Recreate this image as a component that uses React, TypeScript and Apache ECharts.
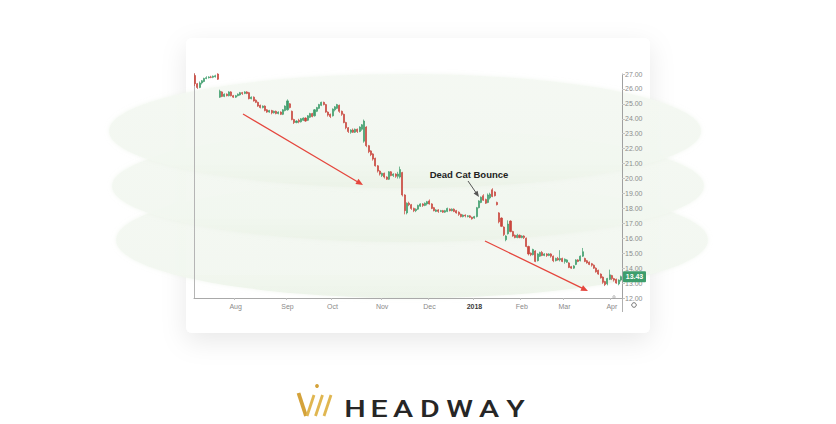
import React, { useEffect, useRef } from "react";
import * as echarts from "echarts";

// Month labels of the time axis and the number of trading sessions in each month shown
const monthNames = ["Jul", "Aug", "Sep", "Oct", "Nov", "Dec", "2018", "Feb", "Mar", "Apr"];
const monthSessions = [18, 23, 20, 22, 21, 20, 21, 19, 21, 5];

// Daily candles: [open, close, low, high]
const candles: number[][] = [
  [26.9, 26.35, 26.2, 27.05], [26.35, 26.1, 26.0, 26.4], [26.1, 26.4, 26.05, 26.5], [26.4, 26.55, 26.3, 26.6],
  [26.5, 26.7, 26.45, 26.75], [26.7, 26.75, 26.65, 26.85], [26.75, 26.8, 26.7, 26.85], [26.8, 26.78, 26.72, 26.88],
  [26.78, 26.85, 26.72, 26.9], [26.82, 26.88, 26.76, 26.95], [27.0, 26.65, 26.6, 27.05],
  [25.45, 25.85, 25.4, 25.95], [25.8, 25.5, 25.45, 25.85], [25.5, 25.65, 25.45, 25.7], [25.65, 25.55, 25.5, 25.7],
  [25.55, 25.8, 25.5, 25.85], [25.8, 25.55, 25.5, 25.85], [25.55, 25.45, 25.4, 25.6],
  [25.45, 25.55, 25.4, 25.6], [25.55, 25.65, 25.5, 25.7], [25.6, 25.75, 25.55, 25.8], [25.75, 25.7, 25.6, 25.8],
  [25.7, 25.8, 25.65, 25.85], [25.8, 25.7, 25.65, 25.85], [25.75, 25.35, 25.3, 25.8], [25.35, 25.45, 25.3, 25.5],
  [25.45, 25.2, 25.15, 25.5], [25.25, 25.1, 25.05, 25.3], [25.1, 24.85, 24.8, 25.15], [24.9, 24.75, 24.7, 24.95],
  [24.75, 24.85, 24.7, 24.9], [24.85, 24.55, 24.5, 24.9], [24.6, 24.45, 24.4, 24.65], [24.45, 24.55, 24.4, 24.6],
  [24.55, 24.4, 24.3, 24.6], [24.4, 24.5, 24.35, 24.55], [24.5, 24.35, 24.3, 24.55], [24.35, 24.45, 24.3, 24.5],
  [24.45, 24.3, 24.25, 24.5], [24.3, 24.6, 24.25, 24.65], [24.55, 24.85, 24.5, 24.9],
  [24.6, 25.2, 24.55, 25.3], [25.0, 24.75, 24.7, 25.05], [24.5, 23.95, 23.9, 24.55], [23.95, 23.75, 23.65, 24.0],
  [23.75, 23.85, 23.7, 23.9], [23.9, 23.8, 23.7, 24.0], [23.8, 24.0, 23.75, 24.05], [23.9, 24.05, 23.85, 24.1],
  [24.05, 23.85, 23.8, 24.1], [23.9, 24.2, 23.85, 24.25], [24.1, 24.35, 24.05, 24.4], [24.35, 24.15, 24.1, 24.4],
  [24.2, 24.6, 24.15, 24.65], [24.5, 24.75, 24.45, 24.8], [24.7, 24.95, 24.65, 25.0], [24.9, 25.1, 24.85, 25.15],
  [25.1, 24.95, 24.9, 25.15], [24.95, 24.45, 24.4, 25.0], [24.45, 24.25, 24.15, 24.5], [24.3, 24.15, 24.05, 24.35],
  [24.2, 24.65, 24.15, 24.7], [24.6, 24.8, 24.5, 24.85], [24.7, 24.95, 24.65, 25.0], [24.9, 24.5, 24.4, 24.95],
  [24.5, 24.3, 24.2, 24.55], [24.3, 23.75, 23.7, 24.35], [23.75, 23.4, 23.3, 23.8], [23.4, 23.15, 23.05, 23.45],
  [23.1, 23.25, 23.0, 23.3], [23.25, 23.1, 23.05, 23.35], [23.1, 23.3, 23.05, 23.35], [23.3, 23.15, 23.05, 23.35],
  [23.15, 23.45, 23.1, 23.5], [23.3, 23.6, 23.2, 23.65], [22.5, 23.85, 22.4, 23.95], [23.45, 22.2, 22.1, 23.5],
  [22.2, 21.8, 21.7, 22.25], [21.85, 21.6, 21.5, 21.9], [21.65, 21.3, 21.2, 21.7], [21.35, 20.85, 20.8, 21.4],
  [20.85, 20.5, 20.4, 20.9], [20.5, 20.3, 20.2, 20.55], [20.2, 20.35, 20.1, 20.4], [20.35, 20.1, 20.0, 20.4],
  [20.1, 19.95, 19.9, 20.15], [19.95, 20.45, 19.9, 20.5], [20.45, 20.2, 20.15, 20.5], [20.2, 20.3, 20.1, 20.35],
  [20.3, 20.15, 20.05, 20.35], [20.15, 20.3, 20.0, 20.45], [20.1, 20.6, 20.0, 20.8], [20.4, 18.9, 18.8, 20.45],
  [18.9, 17.85, 17.6, 18.95], [17.7, 18.35, 17.6, 18.4], [18.35, 18.25, 18.15, 18.45], [18.25, 18.0, 17.9, 18.3],
  [18.0, 17.85, 17.75, 18.05], [17.85, 17.95, 17.75, 18.0], [17.95, 18.2, 17.9, 18.25], [18.15, 18.3, 18.1, 18.35],
  [18.3, 18.2, 18.1, 18.35], [18.2, 18.35, 18.15, 18.4], [18.3, 18.45, 18.2, 18.5], [18.5, 18.3, 18.25, 18.6],
  [18.3, 18.0, 17.95, 18.35], [18.05, 17.85, 17.8, 18.1], [17.8, 17.9, 17.75, 17.95], [17.9, 17.8, 17.7, 17.95],
  [17.8, 17.85, 17.75, 17.9], [17.85, 17.75, 17.7, 17.9], [17.75, 17.85, 17.7, 17.9], [17.8, 18.0, 17.75, 18.05],
  [17.95, 17.85, 17.8, 18.0], [17.85, 17.95, 17.8, 18.0], [17.95, 17.8, 17.75, 18.0], [17.85, 17.7, 17.65, 17.9],
  [17.75, 17.6, 17.5, 17.8], [17.6, 17.45, 17.4, 17.65], [17.45, 17.55, 17.4, 17.6], [17.55, 17.5, 17.4, 17.6],
  [17.45, 17.5, 17.4, 17.55], [17.5, 17.4, 17.35, 17.55], [17.4, 17.3, 17.25, 17.45], [17.35, 17.45, 17.3, 17.5],
  [17.45, 18.05, 17.4, 18.1], [18.05, 18.5, 18.0, 18.55], [18.4, 18.75, 18.35, 18.8], [18.85, 18.55, 18.5, 18.95],
  [18.6, 18.35, 18.3, 18.65], [18.4, 18.9, 18.35, 19.0], [18.7, 18.95, 18.6, 19.05], [19.25, 18.8, 18.75, 19.35],
  [19.1, 18.85, 18.8, 19.15], [18.4, 18.25, 18.2, 18.45], [17.7, 17.1, 17.0, 17.75], [17.35, 16.8, 16.75, 17.4],
  [16.75, 16.25, 16.15, 16.8], [15.9, 16.15, 15.8, 16.2], [16.3, 16.95, 16.25, 17.2], [17.15, 16.45, 16.4, 17.2],
  [16.45, 16.15, 16.1, 16.5], [16.2, 16.05, 16.0, 16.25], [16.05, 16.2, 16.0, 16.3], [16.2, 16.05, 16.0, 16.25],
  [16.05, 16.15, 16.0, 16.2], [16.15, 16.05, 15.95, 16.2], [16.0, 15.45, 15.4, 16.05], [15.45, 14.95, 14.85, 15.5],
  [15.0, 14.9, 14.8, 15.05], [14.9, 15.25, 14.85, 15.3], [15.15, 14.45, 14.4, 15.2], [14.5, 14.95, 14.45, 15.0],
  [14.8, 15.05, 14.75, 15.1], [15.05, 14.85, 14.8, 15.15], [14.85, 14.95, 14.8, 15.0], [14.95, 14.85, 14.75, 15.0],
  [14.85, 14.95, 14.8, 15.0], [14.95, 14.8, 14.7, 15.0], [14.8, 14.5, 14.4, 14.85], [14.5, 14.65, 14.45, 14.7],
  [14.65, 14.55, 14.5, 14.75], [14.55, 14.65, 14.45, 15.2], [14.65, 14.45, 14.4, 14.7], [14.45, 14.6, 14.3, 14.65],
  [14.4, 14.55, 14.35, 14.6], [14.35, 14.05, 14.0, 14.4], [14.1, 14.0, 13.95, 14.15], [14.0, 14.15, 13.95, 14.2],
  [14.25, 14.55, 14.2, 14.6], [14.55, 14.45, 14.4, 14.6], [14.5, 14.8, 14.45, 14.85], [14.8, 15.1, 14.75, 15.35],
  [14.65, 14.45, 14.4, 14.7], [14.5, 14.35, 14.3, 14.55], [14.4, 14.25, 14.2, 14.45], [14.3, 14.2, 14.1, 14.35],
  [14.2, 14.0, 13.95, 14.25], [14.0, 13.75, 13.7, 14.05], [13.85, 13.6, 13.55, 13.9], [13.6, 13.35, 13.3, 13.65],
  [13.4, 13.05, 12.95, 13.45], [13.1, 12.9, 12.8, 13.15], [12.95, 13.3, 12.85, 13.35], [13.25, 13.55, 13.2, 13.9],
  [13.5, 13.3, 13.2, 13.55], [13.3, 13.2, 13.1, 13.35], [13.25, 13.0, 12.95, 13.3], [12.95, 13.2, 12.85, 13.25],
  [13.2, 13.43, 13.1, 13.5],
];

const priceMin = 12;
const priceMax = 27;
const priceStep = 1;
const lastPrice = 13.43;
const annotationText = "Dead Cat Bounce";
const brandLetters = ["H", "E", "A", "D", "W", "A", "Y"];

const UP = "#3d9d6c";
const DOWN = "#c9463d";

function arrow(x1: number, y1: number, x2: number, y2: number, color: string, w: number, L: number, hw: number) {
  const a = Math.atan2(y2 - y1, x2 - x1);
  const c = Math.cos(a), s = Math.sin(a);
  const bx = x2 - L * c, by = y2 - L * s;
  return [
    { type: "line", z: 50, shape: { x1, y1, x2: bx + c, y2: by + s }, style: { stroke: color, lineWidth: w } },
    {
      type: "polygon", z: 50,
      shape: { points: [[x2, y2], [bx - hw * s, by + hw * c], [bx + hw * s, by - hw * c]] },
      style: { fill: color },
    },
  ];
}

export default function App() {
  const ref = useRef<HTMLDivElement>(null);
  useEffect(() => {
    if (!ref.current) return;
    const chart = echarts.init(ref.current, undefined, { renderer: "svg" });

    const categories: string[] = [];
    monthNames.forEach((m, mi) => {
      for (let k = 0; k < monthSessions[mi]; k++) categories.push(m + "#" + k);
    });
    const showLabel = (_i: number, v: string) => v.endsWith("#0") && !v.startsWith("Jul");

    chart.setOption({
      animation: false,
      backgroundColor: "#ffffff",
      grid: { left: 194, right: 214, top: 74, bottom: 126, containLabel: false },
      xAxis: {
        type: "category",
        data: categories,
        boundaryGap: true,
        axisLine: { show: true, lineStyle: { color: "#a9a9a9", width: 1 } },
        axisTick: { show: true, interval: showLabel, length: 2, lineStyle: { color: "#c0c0c0" } },
        axisLabel: {
          interval: showLabel,
          margin: 5,
          fontSize: 7,
          color: "#8a8a8a",
          fontFamily: "Liberation Sans",
          formatter: (v: string) => {
            const m = v.split("#")[0];
            return m === "2018" ? "{b|2018}" : m;
          },
          rich: { b: { fontSize: 7, fontWeight: "bold", color: "#3a3a3a", fontFamily: "Liberation Sans" } },
        },
        splitLine: { show: false },
      },
      yAxis: [
        {
          type: "value",
          position: "right",
          min: priceMin,
          max: priceMax,
          interval: priceStep,
          axisLine: { show: true, lineStyle: { color: "#a0a0a0", width: 1 } },
          axisTick: { show: true, length: 3, lineStyle: { color: "#c4c4c4" } },
          axisLabel: {
            fontSize: 7,
            color: "#8c8c8c",
            margin: 3,
            fontFamily: "Liberation Sans",
            formatter: (v: number) => v.toFixed(2),
          },
          splitLine: { show: false },
        },
        {
          type: "value",
          position: "left",
          min: priceMin,
          max: priceMax,
          interval: priceStep,
          axisLine: { show: true, lineStyle: { color: "#b5b5b5", width: 1 } },
          axisTick: { show: false },
          axisLabel: { show: false },
          splitLine: { show: false },
        },
      ],
      series: [
        {
          type: "candlestick",
          yAxisIndex: 0,
          data: candles,
          barWidth: "68%",
          itemStyle: {
            color: UP,
            color0: DOWN,
            borderColor: UP,
            borderColor0: DOWN,
            borderWidth: 0.7,
          },
          z: 10,
        },
      ],
    });

    const tagY = chart.convertToPixel({ yAxisIndex: 0 }, lastPrice) as number;

    const discFill = () =>
      new echarts.graphic.LinearGradient(0, 0, 0, 1, [
        { offset: 0, color: "rgba(245,249,243,0.9)" },
        { offset: 0.75, color: "rgba(243,248,241,0.9)" },
        { offset: 1, color: "rgba(236,243,232,0.92)" },
      ]);
    const disc = (cx: number, cy: number, rx: number, ry: number) => ({
      type: "ellipse", z: -2,
      shape: { cx, cy, rx, ry },
      style: { fill: discFill(), shadowBlur: 4, shadowColor: "rgba(228,237,223,0.5)" },
    });

    const gold = "#d4a23a";
    const graphics: any[] = [
      {
        type: "rect", z: -3,
        shape: { x: 186, y: 38, width: 464, height: 295, r: 6 },
        style: { fill: "#ffffff", shadowBlur: 26, shadowColor: "rgba(0,0,0,0.09)", shadowOffsetY: 8 },
      },
      disc(412, 240, 296, 58),
      disc(408, 186, 296, 56),
      disc(405, 131, 296, 57),
      ...arrow(243, 114, 363, 185, "#e5463d", 1.3, 7, 3),
      ...arrow(485, 241, 588, 291, "#e5463d", 1.3, 7, 3),
      ...arrow(468, 181, 479, 197, "#555555", 1, 6, 2.4),
      {
        type: "text", z: 50,
        style: {
          text: annotationText, x: 469, y: 174, align: "center", verticalAlign: "middle",
          fontSize: 9.5, fontWeight: "bold", fontFamily: "Liberation Sans", fill: "#222222",
        },
      },
      { type: "line", z: 5, shape: { x1: 622.5, y1: 298, x2: 622.5, y2: 312 }, style: { stroke: "#b0b0b0", lineWidth: 1 } },
      { type: "circle", z: 5, shape: { cx: 634, cy: 305, r: 2.3 }, style: { fill: "none", stroke: "#777", lineWidth: 1 } },
      { type: "circle", z: 5, shape: { cx: 614, cy: 297, r: 1.2 }, style: { fill: "none", stroke: "#999", lineWidth: 0.8 } },
      {
        type: "rect", z: 60,
        shape: { x: 623, y: tagY - 5.5, width: 23, height: 11, r: 1 },
        style: { fill: UP },
      },
      {
        type: "text", z: 61,
        style: {
          text: lastPrice.toFixed(2), x: 634.5, y: tagY, align: "center", verticalAlign: "middle",
          fontSize: 7, fontWeight: "bold", fontFamily: "Liberation Sans", fill: "#ffffff",
        },
      },
      // logo mark
      { type: "line", z: 5, shape: { x1: 298.5, y1: 393, x2: 306, y2: 416 }, style: { stroke: gold, lineWidth: 3.8 } },
      { type: "line", z: 5, shape: { x1: 307, y1: 416, x2: 314, y2: 395 }, style: { stroke: "#e0b650", lineWidth: 2.8 } },
      { type: "line", z: 5, shape: { x1: 315.5, y1: 416, x2: 322.5, y2: 395 }, style: { stroke: "#e0b650", lineWidth: 2.8 } },
      { type: "line", z: 5, shape: { x1: 324, y1: 416, x2: 331, y2: 395 }, style: { stroke: "#e0b650", lineWidth: 2.8 } },
      { type: "circle", z: 5, shape: { cx: 317, cy: 386, r: 1.9 }, style: { fill: gold } },
    ];
    const letterX = [355, 379, 403, 430, 459.5, 489, 515.5];
    brandLetters.forEach((ch, i) => {
      graphics.push({
        type: "text", z: 5, x: letterX[i], y: 409, scaleX: 1.32,
        style: {
          text: ch, x: 0, y: 0, align: "center", verticalAlign: "middle",
          fontSize: 23, fontFamily: "Roboto", fontWeight: 500, fill: "#262626",
        },
      });
    });

    chart.setOption({ graphic: graphics });

    return () => chart.dispose();
  }, []);

  return (
    <div
      ref={ref}
      style={{ position: "fixed", left: 0, top: 0, width: 836, height: 424, background: "#fff" }}
    />
  );
}
